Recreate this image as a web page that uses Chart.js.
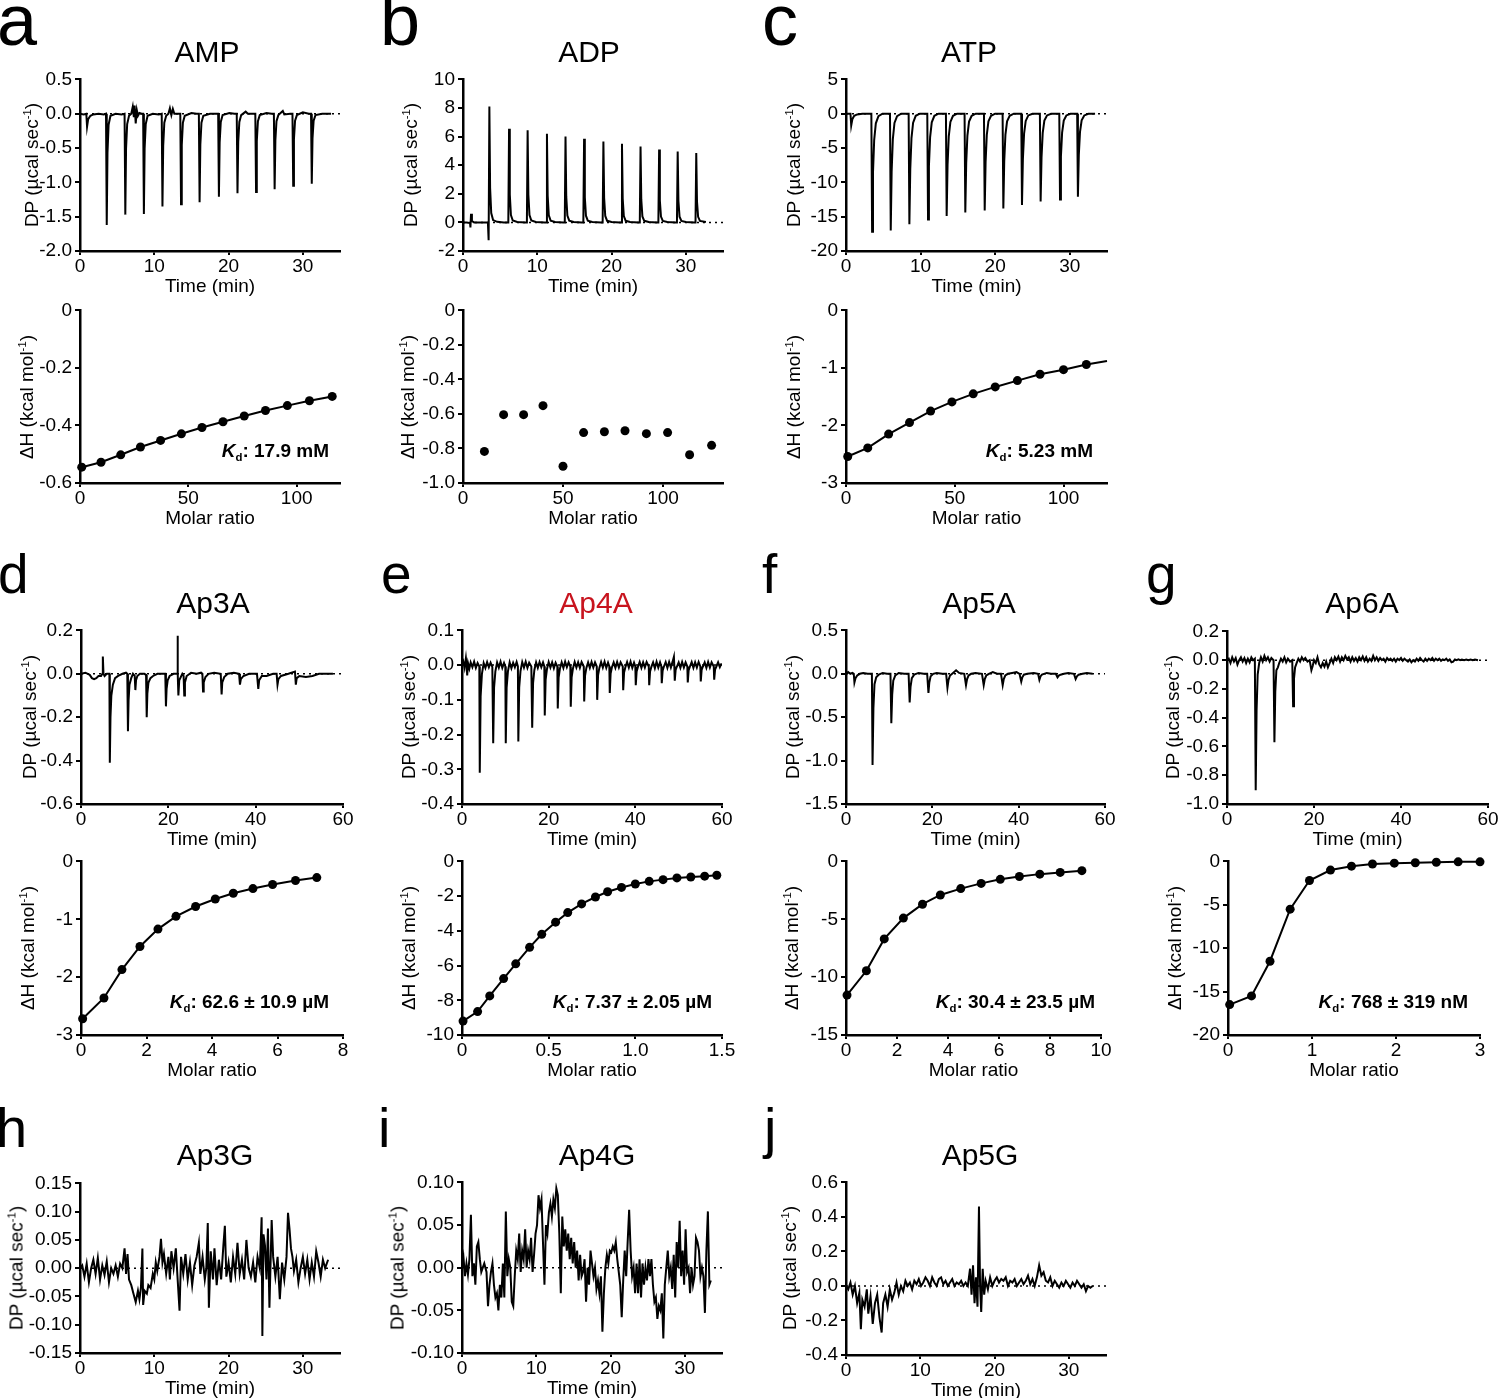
<!DOCTYPE html>
<html><head><meta charset="utf-8">
<script src="https://cdn.jsdelivr.net/npm/chart.js@4.4.1/dist/chart.umd.min.js"></script>
<style>
html,body{margin:0;padding:0;background:#fff}
body{width:1500px;height:1398px;position:relative;overflow:hidden;font-family:"Liberation Sans",Arial,Helvetica,sans-serif;color:#000}
canvas{position:absolute}
.t{position:absolute;line-height:1;white-space:nowrap}
.sup{font-size:0.6em;position:relative;top:-0.6em}
.sub{font-size:0.6em;position:relative;top:0.35em}
</style></head><body>
<script>
// ---------------- DATA ----------------
// tick labels
const time35X = ['0','10','20','30'];
const time60X = ['0','20','40','60'];
const aTopY = ['-2.0','-1.5','-1.0','-0.5','0.0','0.5'];
const aBotY = ['-0.6','-0.4','-0.2','0'];
const aBotX = ['0','50','100'];
const bTopY = ['-2','0','2','4','6','8','10'];
const bBotY = ['-1.0','-0.8','-0.6','-0.4','-0.2','0'];
const bBotX = ['0','50','100'];
const cTopY = ['-20','-15','-10','-5','0','5'];
const cBotY = ['-3','-2','-1','0'];
const cBotX = ['0','50','100'];
const dTopY = ['-0.6','-0.4','-0.2','0.0','0.2'];
const dBotY = ['-3','-2','-1','0'];
const dBotX = ['0','2','4','6','8'];
const eTopY = ['-0.4','-0.3','-0.2','-0.1','0.0','0.1'];
const eBotY = ['-10','-8','-6','-4','-2','0'];
const eBotX = ['0','0.5','1.0','1.5'];
const fTopY = ['-1.5','-1.0','-0.5','0.0','0.5'];
const fBotY = ['-15','-10','-5','0'];
const fBotX = ['0','2','4','6','8','10'];
const gTopY = ['-1.0','-0.8','-0.6','-0.4','-0.2','0.0','0.2'];
const gBotY = ['-20','-15','-10','-5','0'];
const gBotX = ['0','1','2','3'];
const hY = ['-0.15','-0.10','-0.05','0.00','0.05','0.10','0.15'];
const iY = ['-0.10','-0.05','0.00','0.05','0.10'];
const jY = ['-0.4','-0.2','0.0','0.2','0.4','0.6'];

// thermograms [time (min), DP (µcal/s)]
const ampTrace = [[0,0],[0.5,-0.01],[0.85,0],[0.95,-0.19],[1.1,-0.08],[1.4,-0.03],[1.8,-0.01],[2.5,0],[3.2,-0.01],
[3.5,0],[3.6,-1.62],[3.7,-0.57],[3.85,-0.16],[4.1,-0.03],[4.8,0],[5.6,-0.01],
[6.0,0],[6.1,-1.47],[6.2,-0.51],[6.35,-0.15],[6.6,-0.03],[6.9,0],[7.1,0.1],[7.25,-0.05],[7.35,0.12],[7.5,-0.14],[7.65,0.05],[7.8,-0.03],[8.0,0.01],[8.3,0],
[8.5,0],[8.6,-1.46],[8.7,-0.51],[8.85,-0.15],[9.1,-0.03],[9.8,0],[10.6,-0.01],
[11.0,0],[11.1,-1.35],[11.2,-0.47],[11.35,-0.13],[11.6,-0.03],[11.9,0],[12.1,0.08],[12.3,-0.02],[12.5,0.07],[12.7,0],[13.2,0],
[13.5,0],[13.6,-1.32],[13.7,-0.46],[13.85,-0.13],[14.1,-0.03],[15.0,0.01],[15.7,0],
[16.0,0],[16.1,-1.29],[16.2,-0.45],[16.35,-0.13],[16.6,-0.03],[17.5,0],[18.2,0],
[18.6,0],[18.7,-1.21],[18.8,-0.42],[18.95,-0.12],[19.2,-0.02],[20.1,0.01],[20.8,0],
[21.1,0],[21.2,-1.16],[21.3,-0.41],[21.45,-0.12],[21.7,-0.02],[22.3,0.03],[22.6,0],[23.3,0],
[23.6,0],[23.7,-1.14],[23.8,-0.4],[23.95,-0.11],[24.2,-0.02],[25.1,0.01],[25.8,0],
[26.1,0],[26.2,-1.1],[26.3,-0.39],[26.45,-0.11],[26.7,-0.02],[27.3,0.04],[27.5,-0.01],[28.3,0],
[28.6,0],[28.7,-1.05],[28.8,-0.37],[28.95,-0.1],[29.2,-0.02],[30.0,0.02],[30.8,0],
[31.1,0],[31.2,-1.02],[31.3,-0.36],[31.45,-0.1],[31.7,-0.02],[32.6,0],[33.8,0]];

const adpTrace = [[0,0],[0.5,0],[0.95,-0.05],[1.0,-0.35],[1.08,0.6],[1.2,0.1],[1.5,0],[2.5,0],[3.35,0],[3.45,-1.25],[3.55,8.1],[3.65,2.4],[3.8,0.65],[4.05,0.16],[4.6,0.04],[5.5,0],
[6.1,0],[6.2,6.55],[6.3,1.95],[6.45,0.52],[6.7,0.13],[7.3,0.03],[8.4,0],
[8.6,0],[8.7,6.45],[8.8,1.93],[8.95,0.52],[9.2,0.13],[9.8,0.03],[11.0,0],
[11.2,0],[11.3,6.2],[11.4,1.86],[11.55,0.5],[11.8,0.12],[12.4,0.03],[13.5,0],
[13.7,0],[13.8,6.0],[13.9,1.8],[14.05,0.48],[14.3,0.12],[14.9,0.03],[16.0,0],
[16.2,0],[16.3,5.85],[16.4,1.75],[16.55,0.47],[16.8,0.12],[17.4,0.03],[18.6,0],
[18.8,0],[18.9,5.65],[19.0,1.7],[19.15,0.45],[19.4,0.11],[20.0,0.03],[21.1,0],
[21.3,0],[21.4,5.5],[21.5,1.65],[21.65,0.44],[21.9,0.11],[22.5,0.03],[23.6,0],
[23.8,0],[23.9,5.3],[24.0,1.59],[24.15,0.42],[24.4,0.11],[25.0,0.03],[26.1,0],
[26.3,0],[26.4,5.1],[26.5,1.53],[26.65,0.41],[26.9,0.1],[27.5,0.03],[28.6,0],
[28.8,0],[28.9,4.95],[29.0,1.49],[29.15,0.4],[29.4,0.1],[30.0,0.03],[31.1,0],
[31.3,0],[31.4,4.85],[31.5,1.46],[31.65,0.39],[31.9,0.1],[32.7,0.03]];

const atpTrace = [[0,0],[0.6,0],[0.7,-1.7],[0.85,-0.8],[1.1,-0.3],[1.5,-0.1],[2.2,0],[3.0,0],
[3.4,0],[3.5,-17.2],[3.62,-8.6],[3.78,-3.8],[4.0,-1.4],[4.35,-0.35],[4.9,0],
[5.9,0],[6.0,-17.0],[6.12,-8.5],[6.28,-3.7],[6.5,-1.35],[6.85,-0.35],[7.4,0],
[8.4,0],[8.5,-16.1],[8.62,-8.05],[8.78,-3.55],[9.0,-1.3],[9.35,-0.3],[9.9,0],
[10.9,0],[11.0,-15.4],[11.12,-7.7],[11.28,-3.4],[11.5,-1.25],[11.85,-0.3],[12.4,0],
[13.4,0],[13.5,-14.9],[13.62,-7.45],[13.78,-3.3],[14.0,-1.2],[14.35,-0.3],[14.9,0],
[15.9,0],[16.0,-14.4],[16.12,-7.2],[16.28,-3.2],[16.5,-1.15],[16.85,-0.3],[17.4,0],
[18.5,0],[18.6,-14.1],[18.72,-7.05],[18.88,-3.1],[19.1,-1.1],[19.45,-0.3],[20.0,0],
[21.0,0],[21.1,-13.8],[21.22,-6.9],[21.38,-3.05],[21.6,-1.1],[21.95,-0.3],[22.5,0],
[23.5,0],[23.6,-13.3],[23.72,-6.65],[23.88,-2.9],[24.1,-1.05],[24.45,-0.25],[25.0,0],
[26.0,0],[26.1,-12.8],[26.22,-6.4],[26.38,-2.8],[26.6,-1.0],[26.95,-0.25],[27.5,0],
[28.6,0],[28.7,-12.5],[28.82,-6.25],[28.98,-2.75],[29.2,-1.0],[29.55,-0.25],[30.1,0],
[31.0,0],[31.1,-12.1],[31.22,-6.05],[31.38,-2.65],[31.6,-0.95],[31.95,-0.25],[32.5,0],[33.4,0]];

const ap3aTrace = [[0,0],[1,0.005],[2,-0.005],[2.5,-0.02],[3,-0.025],[3.5,-0.02],[4,-0.01],[4.6,-0.01],[4.9,0],[5.0,0.08],[5.15,0],[5.4,-0.01],[5.9,0],[6.5,0],[6.6,-0.41],[6.75,-0.2],[6.95,-0.1],[7.3,-0.05],[7.8,-0.02],[8.5,-0.01],[9.5,0],[10.3,0.005],[10.6,0],[10.75,-0.265],[10.9,-0.12],[11.1,-0.05],[11.5,-0.02],[11.9,0],[12.3,-0.01],[12.45,-0.075],[12.6,-0.03],[12.9,-0.01],[13.5,0],[14.5,0],[14.9,-0.005],[15.05,-0.2],[15.2,-0.09],[15.45,-0.04],[15.9,-0.02],[16.5,-0.01],[17.5,0],[18.5,0],[19.3,0],[19.45,-0.15],[19.6,-0.07],[19.85,-0.03],[20.3,-0.01],[21.2,0],[22.0,0],[22.1,0.175],[22.2,0],[22.3,-0.1],[22.5,-0.03],[23.2,0],[23.5,-0.01],[23.65,-0.1],[23.8,-0.04],[24.2,-0.01],[25.2,0.005],[26.5,0],[27.5,0.005],[27.8,0],[27.95,-0.082],[28.1,-0.04],[28.5,-0.015],[29.2,0],[30.5,0.005],[32.0,0],[32.2,-0.095],[32.35,-0.04],[32.8,-0.015],[33.6,0],[35.0,0.005],[36.2,0],[36.4,-0.05],[36.6,-0.025],[37.2,-0.01],[38.5,0],[40.3,0],[40.6,-0.07],[40.8,-0.03],[41.4,-0.01],[42.5,-0.01],[44.0,0],[44.8,0],[45.0,-0.05],[45.2,-0.025],[45.8,-0.01],[47.5,0],[49.0,0.01],[49.2,-0.05],[49.4,-0.02],[50.0,-0.01],[51.5,-0.015],[53,-0.01],[54.5,0],[56,0],[57.7,0]];

const ap4aTrace = [[0,0],[0.3,0.01],[0.6,-0.008],[0.9,0.02],[1.1,-0.005],[1.2,-0.03],[1.4,0.005],[1.7,-0.01],[2.0,0.008],[2.4,-0.006],[2.8,0.01],[3.2,-0.008],[3.6,0.006],[4.0,-0.004],
[4.1,-0.31],[4.3,-0.09],[4.6,-0.025],[5.0,0.006],[5.4,-0.008],[5.8,0.009],[6.2,-0.006],[6.6,0.007],[7.0,-0.005],
[7.2,-0.225],[7.4,-0.065],[7.7,-0.018],[8.1,0.008],[8.5,-0.007],[8.9,0.01],[9.3,-0.008],[9.7,0.006],[10.0,-0.004],
[10.1,-0.225],[10.3,-0.065],[10.6,-0.018],[11.0,0.008],[11.4,-0.009],[11.8,0.007],[12.2,-0.006],[12.6,0.009],[12.9,-0.004],
[13.0,-0.22],[13.2,-0.064],[13.5,-0.017],[13.9,0.009],[14.3,-0.007],[14.7,0.01],[15.1,-0.008],[15.5,0.007],[16.0,-0.004],
[16.2,-0.18],[16.4,-0.052],[16.7,-0.014],[17.1,0.008],[17.5,-0.008],[17.9,0.009],[18.3,-0.006],[18.7,0.008],[19.0,-0.004],
[19.1,-0.145],[19.3,-0.042],[19.6,-0.012],[20.0,0.009],[20.4,-0.007],[20.8,0.008],[21.2,-0.009],[21.6,0.007],[22.0,-0.004],
[22.1,-0.125],[22.3,-0.036],[22.6,-0.01],[23.0,0.008],[23.4,-0.008],[23.8,0.01],[24.2,-0.006],[24.6,0.008],[25.0,-0.004],
[25.1,-0.12],[25.3,-0.035],[25.6,-0.01],[26.0,0.009],[26.4,-0.007],[26.8,0.008],[27.2,-0.008],[27.6,0.009],[28.1,-0.004],
[28.2,-0.105],[28.4,-0.03],[28.7,-0.008],[29.1,0.008],[29.5,-0.008],[29.9,0.009],[30.3,-0.007],[30.7,0.008],[31.1,-0.004],
[31.2,-0.1],[31.4,-0.029],[31.7,-0.008],[32.1,0.009],[32.5,-0.007],[32.9,0.01],[33.3,-0.008],[33.7,0.007],[34.0,-0.004],
[34.1,-0.08],[34.3,-0.024],[34.6,-0.006],[35.0,0.008],[35.4,-0.008],[35.8,0.009],[36.2,-0.007],[36.6,0.008],[37.1,-0.004],
[37.2,-0.072],[37.4,-0.021],[37.7,-0.006],[38.1,0.009],[38.5,-0.007],[38.9,0.01],[39.3,-0.008],[39.7,0.007],[40.0,-0.004],
[40.1,-0.058],[40.3,-0.018],[40.6,-0.005],[41.0,0.009],[41.4,-0.008],[41.8,0.008],[42.2,-0.007],[42.6,0.009],[43.1,-0.004],
[43.2,-0.058],[43.4,-0.018],[43.7,-0.005],[44.1,0.008],[44.5,-0.009],[44.9,0.01],[45.3,-0.007],[45.7,0.008],[46.0,-0.004],
[46.1,-0.052],[46.3,-0.016],[46.6,-0.004],[47.0,0.009],[47.4,-0.008],[47.8,0.009],[48.2,-0.007],[48.6,0.01],[48.9,0.024],[49.0,-0.004],
[49.1,-0.045],[49.3,-0.014],[49.6,-0.004],[50.0,0.008],[50.4,-0.008],[50.8,0.009],[51.2,-0.007],[51.6,0.008],[52.0,-0.004],
[52.1,-0.05],[52.3,-0.015],[52.6,-0.004],[53.0,0.009],[53.4,-0.008],[53.8,0.008],[54.2,-0.007],[54.6,0.009],[55.0,-0.004],
[55.1,-0.047],[55.3,-0.014],[55.6,-0.004],[56.0,0.008],[56.4,-0.008],[56.8,0.009],[57.2,-0.007],[57.6,0.008],[58.1,-0.004],
[58.2,-0.042],[58.4,-0.013],[58.7,-0.004],[59.1,0.008],[59.5,-0.006],[59.9,0.005]];

const ap5aTrace = [[0,0],[0.5,0.02],[1.0,0.0],[1.5,0.01],[1.8,0.0],[1.95,-0.1],[2.2,-0.05],[2.6,-0.02],[3.2,0.0],[4.0,0.01],[5.0,0.0],[6.0,0.0],
[6.15,-1.05],[6.35,-0.4],[6.6,-0.12],[7.0,-0.04],[7.6,-0.01],[8.5,0.01],[9.5,0.0],[10.3,0.0],
[10.5,-0.57],[10.7,-0.24],[10.95,-0.08],[11.4,-0.02],[12.2,0.01],[13.5,0.0],[14.5,0.0],
[14.75,-0.33],[14.95,-0.15],[15.25,-0.05],[15.8,-0.01],[16.8,0.01],[18.0,0.0],[18.8,0.0],
[19.1,-0.22],[19.3,-0.1],[19.6,-0.03],[20.2,0.0],[21.0,0.01],[22.3,0.0],[23.2,0.0],
[23.5,-0.16],[23.75,-0.07],[24.1,-0.02],[24.8,0.01],[25.5,0.04],[26.2,0.01],[27.4,0.0],
[27.8,-0.13],[28.05,-0.06],[28.4,-0.02],[29.0,0.0],[30.0,0.01],[31.5,0.0],
[31.9,-0.13],[32.15,-0.06],[32.5,-0.02],[33.1,0.0],[34.0,0.02],[35.0,0.0],[35.9,0.0],
[36.3,-0.13],[36.55,-0.06],[36.9,-0.02],[37.5,0.0],[38.5,0.01],[39.5,0.02],[40.2,0.0],
[40.6,-0.09],[40.85,-0.04],[41.2,-0.01],[42.0,0.0],[43.5,0.01],[44.5,0.0],
[44.8,-0.07],[45.05,-0.03],[45.4,-0.01],[46.5,0.01],[47.5,0.0],[48.6,0.0],
[49.0,-0.04],[49.3,-0.02],[49.7,-0.01],[50.5,0.0],[51.5,0.01],[52.8,0.0],
[53.2,-0.06],[53.5,-0.03],[53.9,-0.01],[54.8,0.0],[55.8,0.01],[57.1,0.0]];

const ap6aTrace = [[0,0],[0.4,0.01],[0.8,-0.02],[1.2,0.02],[1.6,-0.01],[2.0,0.015],[2.4,-0.03],[2.8,0.0],[3.2,0.02],[3.6,-0.01],[4.0,0.015],[4.4,-0.02],[4.8,0.01],[5.2,-0.015],[5.6,0.02],[6.0,0.0],[6.4,0.01],
[6.6,-0.905],[6.8,-0.35],[7.05,-0.1],[7.4,-0.02],[7.8,0.02],[8.2,-0.01],[8.6,0.03],[9.0,0.0],[9.4,0.02],[9.8,-0.01],[10.2,0.015],[10.7,0.0],
[10.9,-0.57],[11.1,-0.22],[11.35,-0.07],[11.7,-0.05],[12.0,-0.02],[12.4,0.01],[12.8,-0.01],[13.2,0.02],[13.6,-0.015],[14.0,0.01],[14.5,-0.01],[15.0,0.0],
[15.2,-0.32],[15.4,-0.13],[15.65,-0.05],[16.0,-0.02],[16.4,0.01],[16.8,-0.01],[17.2,0.02],[17.6,0.0],[18.0,0.015],[18.5,-0.01],[19.0,0.0],
[19.4,-0.07],[19.7,-0.04],[20.0,0.0],[20.4,-0.02],[20.8,0.02],[21.2,-0.03],[21.6,-0.05],[22.0,-0.02],[22.4,-0.045],[22.8,-0.01],[23.2,-0.05],[23.6,-0.02],[24.0,0.01],[24.4,-0.02],[24.8,0.02],[25.2,0.0],[25.6,0.025],[26.0,-0.01],[26.4,0.02],[26.8,0.0],[27.2,0.03],[27.6,0.005],[28.0,0.02],[28.4,-0.01],[28.8,0.02],[29.2,-0.005],[29.6,0.015],[30.0,-0.01],[30.4,0.02],[30.8,0.0],[31.2,0.025],[31.6,-0.005],[32.0,0.02],[32.4,-0.01],[32.8,0.01],[33.2,-0.005],[33.6,0.03],[34.0,0.0],[34.4,0.02],[34.8,-0.005],[35.2,0.015],[35.6,0.0],[36.0,0.01],[36.4,-0.01],[36.8,0.015],[37.2,0.0],[37.6,0.01],[38.0,-0.005],[38.4,0.01],[38.8,-0.01],[39.2,0.01],[39.6,0.0],[40.0,0.015],[40.4,-0.005],[40.8,0.01],[41.2,0.0],[41.6,-0.01],[42.0,0.005],[42.4,-0.015],[42.8,0.0],[43.2,-0.01],[43.6,0.01],[44.0,-0.005],[44.4,0.015],[44.8,0.0],[45.2,-0.01],[45.6,0.01],[46.0,-0.005],[46.4,0.01],[46.8,0.0],[47.2,0.015],[47.6,-0.005],[48.0,0.01],[48.4,0.0],[48.8,0.01],[49.2,-0.005],[49.6,0.005],[50.0,0.0],[50.4,0.01],[50.8,-0.005],[51.2,0.005],[51.6,-0.015],[52.0,-0.01],[52.4,0.005],[52.8,0.0],[53.2,0.005],[53.6,0.0],[54.0,0.005],[54.5,0.0],[55.0,0.005],[55.5,0.0],[56.0,0.005],[56.5,0.0],[57.0,0.005],[57.7,0.0]];

const ap3gTrace = [[0,0],[0.3,0.005],[0.6,-0.015],[0.9,0.008],[1.2,-0.025],[1.5,0],[1.8,0.015],[2.1,-0.01],[2.4,0.018],[2.7,-0.02],[3.0,0.005],[3.3,-0.012],[3.6,0.012],[3.9,-0.025],[4.2,0],[4.5,-0.01],[4.8,0.005],[5.1,-0.015],[5.4,0.008],[5.7,0],[6.0,0.035],[6.2,-0.01],[6.4,0.025],[6.6,-0.02],[6.9,-0.03],[7.2,-0.045],[7.5,-0.06],[7.8,-0.04],[8.0,-0.055],[8.2,-0.035],[8.4,0.035],[8.5,-0.065],[8.7,-0.04],[9.0,-0.045],[9.2,-0.03],[9.5,-0.035],[9.8,-0.01],[10.0,-0.02],[10.2,0.01],[10.4,-0.005],[10.7,0.02],[10.9,0.052],[11.1,0.01],[11.3,0.025],[11.6,-0.01],[11.9,0.02],[12.1,-0.02],[12.3,0.03],[12.6,0],[12.9,0.035],[13.1,-0.01],[13.4,-0.075],[13.6,0.02],[13.9,-0.01],[14.2,0.025],[14.5,-0.02],[14.8,0.01],[15.1,-0.03],[15.4,0.005],[15.7,0.02],[16.0,0.045],[16.2,-0.01],[16.5,0.02],[16.8,-0.02],[17.0,0],[17.2,0.08],[17.35,-0.07],[17.6,0.03],[17.9,-0.02],[18.1,0.035],[18.4,-0.03],[18.7,0.015],[19.0,-0.02],[19.3,0.04],[19.5,0.075],[19.7,-0.015],[20.0,0.01],[20.3,-0.025],[20.6,0.02],[20.9,-0.01],[21.2,0.045],[21.5,-0.01],[21.8,0.015],[22.1,-0.02],[22.4,0.05],[22.7,0],[23.0,-0.015],[23.3,0.01],[23.6,-0.025],[23.9,0.02],[24.2,0],[24.45,0.09],[24.55,-0.12],[24.7,0.06],[24.9,0.04],[25.1,-0.02],[25.3,0.07],[25.5,-0.07],[25.8,0.085],[26.0,0.02],[26.3,-0.015],[26.6,0.02],[26.9,-0.055],[27.2,0.01],[27.5,-0.02],[27.8,0.02],[28.0,0.098],[28.2,0.07],[28.4,0.035],[28.6,0.02],[28.8,-0.005],[29.1,0.015],[29.4,-0.025],[29.7,0],[30.0,0.02],[30.3,-0.01],[30.6,0.015],[30.9,-0.02],[31.2,0.01],[31.5,-0.015],[31.8,0.03],[32.1,0.01],[32.4,-0.015],[32.7,0.015],[33.0,0],[33.4,0.015]];

const ap4gTrace = [[0,0],[0.2,0.012],[0.4,-0.01],[0.6,0.005],[0.8,-0.008],[1.0,0.01],[1.2,0.062],[1.4,-0.01],[1.6,0.005],[1.8,-0.02],[2.0,0.025],[2.2,0.03],[2.4,0.01],[2.6,-0.005],[2.8,0],[3.0,0.005],[3.3,-0.005],[3.5,-0.045],[3.7,-0.02],[3.9,-0.005],[4.1,0.005],[4.3,-0.02],[4.5,-0.035],[4.7,-0.03],[4.9,-0.05],[5.1,-0.02],[5.3,-0.035],[5.5,0.005],[5.7,-0.035],[5.9,0.066],[6.1,-0.01],[6.3,0.01],[6.5,0],[6.7,-0.04],[6.9,-0.045],[7.1,-0.01],[7.3,0.02],[7.5,0.01],[7.7,0.04],[7.9,-0.005],[8.1,0.02],[8.3,0.01],[8.5,0.045],[8.7,0],[8.9,0.02],[9.1,0.01],[9.3,0.035],[9.5,-0.005],[9.7,0.015],[9.9,0.04],[10.1,0.05],[10.3,0.085],[10.5,0.07],[10.7,0.08],[10.9,0.03],[11.1,-0.02],[11.3,0.05],[11.5,0.04],[11.7,0.065],[11.9,0.075],[12.1,0.06],[12.3,0.08],[12.5,0.07],[12.7,0.093],[12.9,0.085],[13.1,0.04],[13.3,-0.03],[13.5,0.06],[13.7,0.025],[13.9,0.045],[14.1,0.02],[14.3,0.04],[14.5,0.01],[14.7,0.035],[14.9,0.005],[15.1,0.03],[15.3,0],[15.5,0.02],[15.7,-0.015],[15.9,0.015],[16.1,-0.01],[16.3,-0.005],[16.5,0.01],[16.7,-0.04],[16.9,0],[17.1,-0.02],[17.3,0.02],[17.5,0.005],[17.7,-0.01],[17.9,0],[18.1,-0.025],[18.3,-0.015],[18.5,-0.03],[18.7,-0.01],[18.9,-0.075],[19.1,-0.03],[19.3,0],[19.5,0.015],[19.7,0.005],[19.9,0.02],[20.1,0.018],[20.3,0.025],[20.5,0.02],[20.7,0.03],[20.9,0.01],[21.1,-0.005],[21.3,-0.02],[21.5,-0.058],[21.7,-0.015],[21.9,0.02],[22.1,-0.01],[22.3,0.03],[22.5,0.068],[22.7,0.02],[22.9,-0.01],[23.1,0],[23.3,-0.03],[23.5,0.005],[23.7,-0.03],[23.9,0.01],[24.1,-0.035],[24.3,0.005],[24.5,-0.02],[24.7,0],[24.9,-0.015],[25.1,0.01],[25.3,-0.01],[25.5,0.01],[25.7,-0.02],[25.9,-0.04],[26.1,-0.035],[26.3,-0.06],[26.5,-0.045],[26.7,-0.05],[26.9,-0.03],[27.1,-0.083],[27.3,-0.02],[27.5,0],[27.7,0.02],[27.9,-0.01],[28.1,0],[28.3,-0.025],[28.5,0.015],[28.7,-0.035],[28.9,0.03],[29.1,0],[29.3,0.055],[29.5,-0.01],[29.7,0.02],[29.9,-0.02],[30.1,0.045],[30.3,-0.005],[30.5,0],[30.7,-0.03],[30.9,0],[31.1,-0.02],[31.3,-0.01],[31.5,0.035],[31.7,0.03],[31.9,0.02],[32.1,-0.01],[32.3,0],[32.5,-0.01],[32.7,-0.053],[32.9,0.02],[33.1,0.066],[33.3,-0.02],[33.5,-0.015]];

const ap5gTrace = [[0,0],[0.3,-0.02],[0.6,0.02],[0.9,-0.05],[1.2,0],[1.5,-0.1],[1.8,-0.04],[2.0,-0.25],[2.2,-0.08],[2.5,-0.12],[2.8,-0.02],[3.0,-0.16],[3.3,-0.06],[3.6,-0.22],[3.9,-0.1],[4.2,-0.05],[4.5,-0.18],[4.8,-0.27],[5.0,-0.1],[5.3,-0.05],[5.6,-0.12],[5.9,-0.02],[6.2,-0.08],[6.5,-0.04],[6.8,0.02],[7.1,-0.05],[7.4,0],[7.7,-0.03],[8.0,0.03],[8.3,0],[8.6,0.02],[8.9,-0.02],[9.2,0.03],[9.5,0.01],[9.8,0.04],[10.1,0],[10.4,0.02],[10.7,0.05],[11.0,0.03],[11.3,0],[11.6,0.05],[11.9,0.02],[12.2,0],[12.5,0.04],[12.8,0.05],[13.1,0.01],[13.4,0.03],[13.7,0],[14.0,0.02],[14.3,0.04],[14.6,0],[14.9,0.02],[15.2,0.01],[15.5,0.03],[15.8,0],[16.1,0.02],[16.4,0],[16.7,0.1],[16.9,-0.05],[17.1,0.12],[17.3,-0.1],[17.5,0.05],[17.7,-0.12],[17.9,0.46],[18.05,0],[18.2,-0.15],[18.4,0.1],[18.6,-0.05],[18.8,0.03],[19.1,-0.02],[19.4,0.05],[19.7,0],[20.0,0.03],[20.3,0.05],[20.6,0.02],[20.9,0.04],[21.2,0.03],[21.5,0.05],[21.8,0],[22.1,0.03],[22.4,0.02],[22.7,0.04],[23.0,0],[23.3,0.02],[23.6,0.04],[23.9,0.01],[24.2,0.03],[24.5,0.06],[24.8,0.01],[25.1,0.04],[25.4,0],[25.7,0.05],[26.0,0.12],[26.3,0.06],[26.6,0.08],[26.9,0.03],[27.2,0.02],[27.5,0.05],[27.8,0],[28.1,0.03],[28.4,0.01],[28.7,-0.01],[29.0,0.02],[29.3,0],[29.6,0.03],[29.9,0.01],[30.2,-0.01],[30.5,0.02],[30.8,0],[31.1,0.03],[31.4,0.01],[31.7,-0.01],[32.0,0.01],[32.3,-0.03],[32.6,0],[32.9,-0.01],[33.2,0]];

// isotherms [molar ratio, ΔH (kcal/mol)]
const ampITC = [[0.8,-0.545],[9.7,-0.528],[18.8,-0.502],[27.9,-0.475],[37.2,-0.452],[46.8,-0.429],[56.3,-0.407],[66.0,-0.387],[75.8,-0.367],[85.6,-0.348],[95.7,-0.331],[105.9,-0.314],[116.4,-0.299]];
const adpITC = [[10.7,-0.817],[20.3,-0.604],[30.3,-0.604],[40,-0.552],[50,-0.903],[60.3,-0.708],[70.7,-0.703],[81,-0.697],[91.7,-0.714],[102.3,-0.708],[113.3,-0.836],[124.3,-0.782]];
const atpITC = [[0.8,-2.54],[10.0,-2.39],[19.6,-2.15],[29.2,-1.95],[38.9,-1.75],[48.7,-1.59],[58.5,-1.45],[68.6,-1.33],[78.8,-1.22],[89.2,-1.11],[100,-1.03],[110.5,-0.94]];
const atpFitEnd = [[120,-0.88]];
const ap3aITC = [[0.05,-2.72],[0.7,-2.36],[1.25,-1.87],[1.8,-1.47],[2.35,-1.17],[2.9,-0.95],[3.5,-0.78],[4.1,-0.65],[4.65,-0.55],[5.25,-0.47],[5.85,-0.4],[6.55,-0.33],[7.2,-0.28]];
const ap4aITC = [[0.006,-9.2],[0.09,-8.65],[0.16,-7.75],[0.24,-6.75],[0.31,-5.9],[0.39,-4.95],[0.46,-4.2],[0.54,-3.5],[0.61,-2.95],[0.69,-2.45],[0.77,-2.05],[0.84,-1.75],[0.92,-1.5],[1.0,-1.3],[1.08,-1.15],[1.16,-1.05],[1.24,-0.95],[1.32,-0.9],[1.4,-0.85],[1.47,-0.8]];
const ap5aITC = [[0.04,-11.55],[0.8,-9.45],[1.5,-6.7],[2.25,-4.9],[3.0,-3.7],[3.7,-2.9],[4.5,-2.35],[5.3,-1.9],[6.05,-1.55],[6.8,-1.3],[7.6,-1.1],[8.4,-0.95],[9.25,-0.8]];
const ap6aITC = [[0.02,-16.5],[0.28,-15.5],[0.5,-11.5],[0.74,-5.5],[0.97,-2.2],[1.22,-1.0],[1.47,-0.55],[1.72,-0.3],[1.98,-0.2],[2.23,-0.15],[2.48,-0.1],[2.74,-0.05],[3.0,-0.05]];

// ---------------- RENDERING ----------------
const FONT = '"Liberation Sans", Arial, Helvetica, sans-serif';
Chart.defaults.font.family = FONT;
Chart.defaults.color = '#000';
const FS = 19;
const YW = 72, XH = 47, PT = 14, PR = 18;

const P = a => a.map(p => ({x: p[0], y: p[1]}));
const traceDS = a => ({data: P(a), showLine: true, borderColor: '#000', borderWidth: 2, pointRadius: 0, tension: 0});
const zeroDS = xMax => ({data: [{x: 0, y: 0}, {x: xMax, y: 0}], showLine: true, borderColor: '#000', borderWidth: 1.5, borderDash: [2, 4], pointRadius: 0});
const dotsDS = a => ({data: P(a), showLine: false, pointRadius: 4.5, pointBackgroundColor: '#000', pointBorderColor: '#000', pointBorderWidth: 0, clip: false});
const fitDS = a => ({data: P(a), showLine: true, borderColor: '#000', borderWidth: 2, pointRadius: 0, clip: false});

function chart(g, xLabels, xMax, yLabels, datasets, xTitle) {
  const plotW = g.r - g.x, plotH = g.b - g.t;
  const c = document.createElement('canvas');
  c.width = YW + plotW + PR; c.height = PT + plotH + XH;
  c.style.left = (g.x - YW) + 'px'; c.style.top = (g.t - PT) + 'px';
  document.body.appendChild(c);
  const xv = xLabels.map(Number), yv = yLabels.map(Number);
  const border = {display: true, color: '#000', width: 2.5};
  new Chart(c, {
    type: 'scatter',
    data: {datasets},
    options: {
      responsive: false, animation: false, events: [],
      layout: {padding: {top: PT, right: PR, bottom: 0, left: 0}},
      plugins: {legend: {display: false}, tooltip: {enabled: false}},
      scales: {
        x: {type: 'linear', min: 0, max: xMax,
          afterFit: s => { s.height = XH; },
          afterBuildTicks: s => { s.ticks = xv.map(v => ({value: v})); },
          border,
          grid: {display: true, drawOnChartArea: false, drawTicks: true, tickLength: 4, color: '#000', lineWidth: 2},
          ticks: {autoSkip: false, maxRotation: 0, minRotation: 0, padding: 2, color: '#000', font: {size: FS, lineHeight: 1}, callback: (v, i) => xLabels[i]},
          title: {display: true, text: xTitle, color: '#000', font: {size: FS}, padding: 0}},
        y: {type: 'linear', min: yv[0], max: yv[yv.length - 1],
          afterFit: s => { s.width = YW; },
          afterBuildTicks: s => { s.ticks = yv.map(v => ({value: v})); },
          border,
          grid: {display: true, drawOnChartArea: false, drawTicks: true, tickLength: 5, color: '#000', lineWidth: 2},
          ticks: {autoSkip: false, padding: 3, color: '#000', font: {size: FS}, callback: (v, i) => yLabels[i]}}
      }
    }
  });
}

function place(html, x, base, size, align, extra) {
  const d = document.createElement('div');
  d.className = 't'; d.innerHTML = html;
  d.style.fontSize = size + 'px';
  d.style.top = (base - 0.8465 * size) + 'px';
  if (align === 'center') { d.style.left = x + 'px'; d.style.transform = 'translateX(-50%)'; }
  else if (align === 'right') { d.style.right = (1500 - x) + 'px'; }
  else d.style.left = x + 'px';
  if (extra) Object.assign(d.style, extra);
  document.body.appendChild(d);
}
function ytitle(html, cx, cy) {
  const d = document.createElement('div');
  d.className = 't'; d.innerHTML = html; d.style.fontSize = FS + 'px';
  d.style.left = cx + 'px'; d.style.top = cy + 'px';
  d.style.transform = 'translate(-50%,-50%) rotate(-90deg)';
  document.body.appendChild(d);
}
const DP = 'DP (µcal sec<span class="sup">-1</span>)';
const DH = 'ΔH (kcal mol<span class="sup">-1</span>)';
const KD = v => '<b><i>K</i><span class="sub">d</span>: ' + v + '</b>';
const TM = 'Time (min)', MR = 'Molar ratio';

// Row 1
chart({x: 80, t: 79, b: 251, r: 340}, time35X, 35, aTopY, [traceDS(ampTrace), zeroDS(35)], TM);
chart({x: 80, t: 310, b: 483, r: 340}, aBotX, 120, aBotY, [dotsDS(ampITC), fitDS(ampITC)], MR);
chart({x: 463, t: 79, b: 251, r: 723}, time35X, 35, bTopY, [traceDS(adpTrace), zeroDS(35)], TM);
chart({x: 463, t: 310, b: 483, r: 723}, bBotX, 130, bBotY, [dotsDS(adpITC)], MR);
chart({x: 846, t: 79, b: 251, r: 1107}, time35X, 35, cTopY, [traceDS(atpTrace), zeroDS(35)], TM);
chart({x: 846, t: 310, b: 483, r: 1107}, cBotX, 120, cBotY, [dotsDS(atpITC), fitDS(atpITC.concat(atpFitEnd))], MR);
// Row 2
chart({x: 81, t: 630, b: 804, r: 343}, time60X, 60, dTopY, [traceDS(ap3aTrace), zeroDS(60)], TM);
chart({x: 81, t: 861, b: 1035, r: 343}, dBotX, 8, dBotY, [dotsDS(ap3aITC), fitDS(ap3aITC)], MR);
chart({x: 462, t: 630, b: 804, r: 722}, time60X, 60, eTopY, [traceDS(ap4aTrace), zeroDS(60)], TM);
chart({x: 462, t: 861, b: 1035, r: 722}, eBotX, 1.5, eBotY, [dotsDS(ap4aITC), fitDS(ap4aITC)], MR);
chart({x: 846, t: 630, b: 804, r: 1105}, time60X, 60, fTopY, [traceDS(ap5aTrace), zeroDS(60)], TM);
chart({x: 846, t: 861, b: 1035, r: 1101}, fBotX, 10, fBotY, [dotsDS(ap5aITC), fitDS(ap5aITC)], MR);
chart({x: 1227, t: 631, b: 804, r: 1488}, time60X, 60, gTopY, [traceDS(ap6aTrace), zeroDS(60)], TM);
chart({x: 1228, t: 861, b: 1035, r: 1480}, gBotX, 3, gBotY, [dotsDS(ap6aITC), fitDS(ap6aITC)], MR);
// Row 3
chart({x: 80, t: 1183, b: 1353, r: 340}, time35X, 35, hY, [traceDS(ap3gTrace), zeroDS(35)], TM);
chart({x: 462, t: 1182, b: 1353, r: 722}, time35X, 35, iY, [traceDS(ap4gTrace), zeroDS(35)], TM);
chart({x: 846, t: 1182, b: 1355, r: 1106}, time35X, 35, jY, [traceDS(ap5gTrace), zeroDS(35)], TM);

// Panel letters
place('a', -3, 45, 72); place('b', 380, 45, 72); place('c', 762, 45, 72);
place('d', -2, 594, 55); place('e', 381, 594, 55); place('f', 762, 594, 55); place('g', 1146, 594, 55);
place('h', -4, 1147, 56); place('i', 378, 1147, 56); place('j', 764, 1147, 56);
// Titles
place('AMP', 207, 62, 30, 'center'); place('ADP', 589, 62, 30, 'center'); place('ATP', 969, 62, 30, 'center');
place('Ap3A', 213, 613, 30, 'center'); place('Ap4A', 596, 613, 30, 'center', {color: '#c8141e'});
place('Ap5A', 979, 613, 30, 'center'); place('Ap6A', 1362, 613, 30, 'center');
place('Ap3G', 215, 1165, 30, 'center'); place('Ap4G', 597, 1165, 30, 'center'); place('Ap5G', 980, 1165, 30, 'center');
// Y-axis titles
ytitle(DP, 31, 165); ytitle(DH, 26, 397);
ytitle(DP, 410, 165); ytitle(DH, 407, 397);
ytitle(DP, 793, 165); ytitle(DH, 793, 397);
ytitle(DP, 29, 717); ytitle(DH, 27, 948);
ytitle(DP, 408, 717); ytitle(DH, 408, 948);
ytitle(DP, 792, 717); ytitle(DH, 791, 948);
ytitle(DP, 1172, 717); ytitle(DH, 1174, 948);
ytitle(DP, 16, 1268); ytitle(DP, 397, 1268); ytitle(DP, 789, 1268);
// Kd annotations
place(KD('17.9 mM'), 329, 457, 19, 'right');
place(KD('5.23 mM'), 1093, 457, 19, 'right');
place(KD('62.6 ± 10.9 µM'), 329, 1008, 19, 'right');
place(KD('7.37 ± 2.05 µM'), 712, 1008, 19, 'right');
place(KD('30.4 ± 23.5 µM'), 1095, 1008, 19, 'right');
place(KD('768 ± 319 nM'), 1468, 1008, 19, 'right');
</script>
</body></html>
